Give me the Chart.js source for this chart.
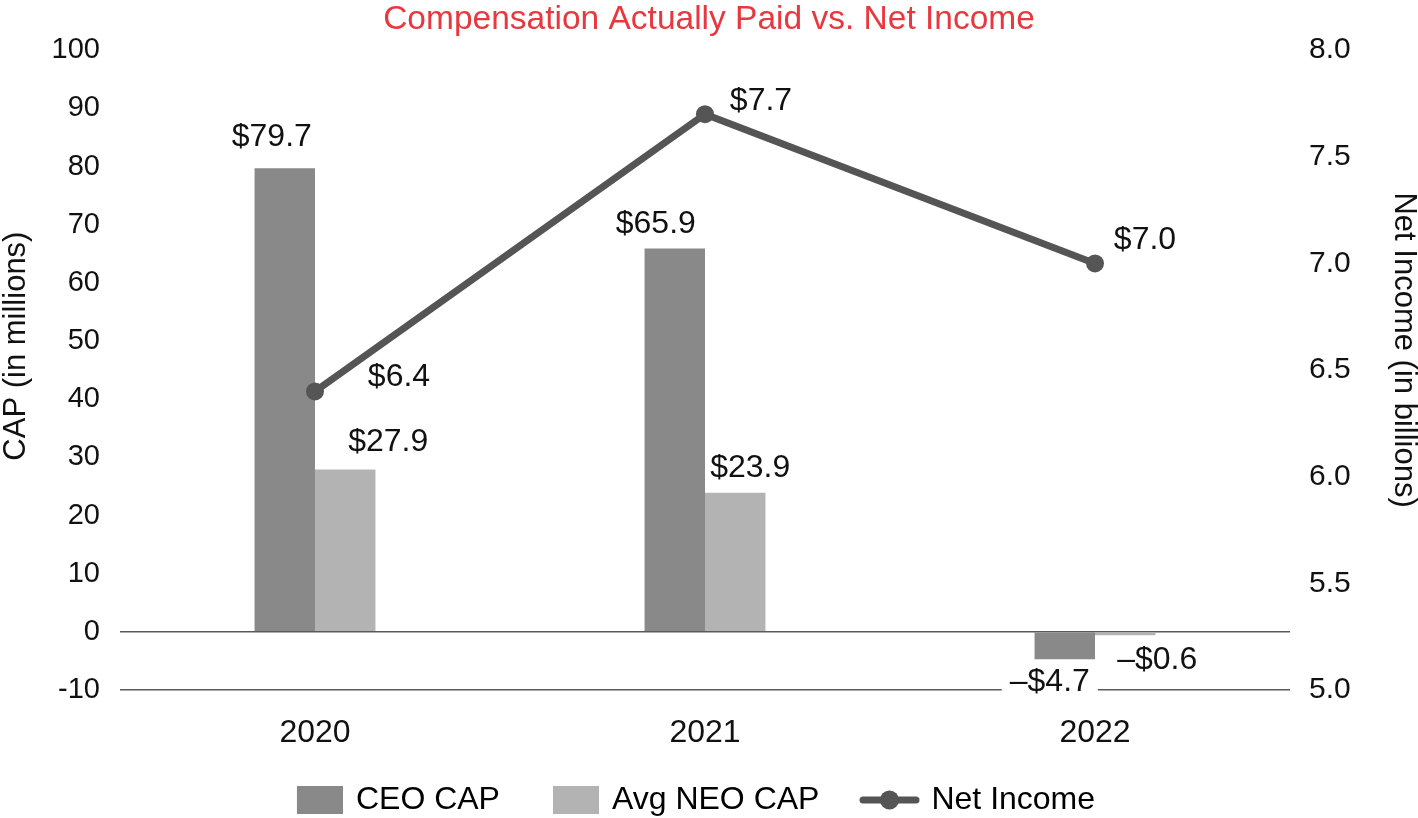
<!DOCTYPE html>
<html>
<head>
<meta charset="utf-8">
<script src="https://cdn.jsdelivr.net/npm/chart.js@4.4.1/dist/chart.umd.min.js"></script>
<style>
  html, body { margin: 0; padding: 0; background: #fff; }
  #wrap { width: 1418px; height: 818px; position: relative; }
</style>
</head>
<body>
<div id="wrap"><canvas id="c"></canvas></div>
<script>
const categories = ['2020', '2021', '2022'];
const ceoCap = [79.7, 65.9, -4.7];
const avgNeoCap = [27.9, 23.9, -0.6];
const netIncome = [6.4, 7.7, 7.0];
const seriesNames = ['CEO CAP', 'Avg NEO CAP', 'Net Income'];
const axisTitles = ['CAP (in millions)', 'Net Income (in billions)'];

const FONT = '"Liberation Sans", Arial, Helvetica, sans-serif';
const COL_CEO = '#898989';
const COL_NEO = '#b3b3b3';
const COL_LINE = '#555555';

// label offsets (pixels, relative to each element's anchor)
const LABEL_OFFSETS = [
  [[-13, -31], [-19, -24], [-15, 23]],
  [[43, -27], [15, -25], [32, 25]],
  [[84, -14], [56, -13], [50, -23]]
];

const SLOT = 65;
function makeRectIcon(color) {
  const c = document.createElement('canvas');
  c.width = 71; c.height = 28;
  const x = c.getContext('2d');
  x.fillStyle = color; x.fillRect(25, 0, 46, 28);
  return c;
}
function makeLineIcon(color) {
  const c = document.createElement('canvas');
  c.width = 80; c.height = 28;
  const x = c.getContext('2d');
  x.strokeStyle = color; x.lineWidth = 7; x.lineCap = 'round';
  x.beginPath(); x.moveTo(20, 14); x.lineTo(73, 14); x.stroke();
  x.fillStyle = color; x.beginPath(); x.arc(46.5, 14, 9.5, 0, Math.PI * 2); x.fill();
  return c;
}

const valueLabels = {
  id: 'valueLabels',
  afterDatasetsDraw(chart) {
    const ctx = chart.ctx;
    ctx.save();
    ctx.font = '32px ' + FONT;
    ctx.textAlign = 'center';
    ctx.textBaseline = 'middle';
    chart.data.datasets.forEach((ds, di) => {
      const meta = chart.getDatasetMeta(di);
      meta.data.forEach((el, i) => {
        const v = ds.data[i];
        const txt = (v < 0 ? '\u2013$' : '$') + Math.abs(v).toFixed(1);
        const off = LABEL_OFFSETS[di][i];
        const x = el.x + off[0], y = el.y + off[1];
        if (v < 0 && di === 0) {
          const w = ctx.measureText(txt).width;
          ctx.fillStyle = '#fff';
          ctx.fillRect(x - w / 2 - 8, y - 17, w + 16, 34);
        }
        ctx.fillStyle = '#111';
        ctx.fillText(txt, x, y);
      });
    });
    ctx.restore();
  }
};

const axisTitlePlugin = {
  id: 'axisTitlePlugin',
  afterLayout(chart) {
    if (chart.legend) { chart.legend.left -= 24; chart.legend.right -= 24; }
  },
  afterDraw(chart) {
    const ctx = chart.ctx;
    ctx.save();
    ctx.font = '31px ' + FONT;
    ctx.fillStyle = '#111';
    ctx.textAlign = 'center';
    ctx.textBaseline = 'middle';
    const ca = chart.chartArea;
    const mid = (ca.top + ca.bottom) / 2;
    ctx.save();
    ctx.translate(16, mid - 24);
    ctx.rotate(-Math.PI / 2);
    ctx.fillText(axisTitles[0], 0, 0);
    ctx.restore();
    ctx.save();
    ctx.translate(chart.width - 14, mid - 20);
    ctx.rotate(Math.PI / 2);
    ctx.fillText(axisTitles[1], 0, 0);
    ctx.restore();
    ctx.restore();
  }
};

const data = {
  labels: categories,
  datasets: [
    { type: 'bar', label: seriesNames[0], data: ceoCap, backgroundColor: COL_CEO, borderWidth: 0, yAxisID: 'y', order: 2 },
    { type: 'bar', label: seriesNames[1], data: avgNeoCap, backgroundColor: COL_NEO, borderWidth: 0, yAxisID: 'y', order: 2 },
    { type: 'line', label: seriesNames[2], data: netIncome, borderColor: COL_LINE, backgroundColor: COL_LINE,
      borderWidth: 7, pointRadius: 9, pointBackgroundColor: COL_LINE, pointBorderWidth: 0, yAxisID: 'y1', order: 0, tension: 0 }
  ]
};

new Chart(document.getElementById('c'), {
  data,
  plugins: [valueLabels, axisTitlePlugin],
  options: {
    responsive: true,
    maintainAspectRatio: false,
    animation: false,
    layout: { padding: 0 },
    datasets: { bar: { categoryPercentage: 0.31, barPercentage: 1.0 } },
    plugins: {
      tooltip: { enabled: false },
      title: {
        display: true,
        text: 'Compensation Actually Paid vs. Net Income',
        color: '#e8383f',
        font: { family: FONT, size: 33.5, weight: 'normal' },
        padding: { top: 0, bottom: 10 }
      },
      legend: {
        position: 'bottom',
        maxHeight: 65,
        labels: {
          font: { family: FONT, size: 32 },
          color: '#111',
          usePointStyle: true,
          pointStyleWidth: SLOT,
          boxHeight: 28,
          padding: 31,
          generateLabels: () => [
            { text: seriesNames[0], pointStyle: makeRectIcon(COL_CEO), fillStyle: COL_CEO, strokeStyle: COL_CEO, lineWidth: 0, datasetIndex: 0 },
            { text: seriesNames[1], pointStyle: makeRectIcon(COL_NEO), fillStyle: COL_NEO, strokeStyle: COL_NEO, lineWidth: 0, datasetIndex: 1 },
            { text: seriesNames[2], pointStyle: makeLineIcon(COL_LINE), fillStyle: COL_LINE, strokeStyle: COL_LINE, lineWidth: 0, datasetIndex: 2 }
          ]
        }
      }
    },
    scales: {
      x: {
        grid: { display: false, drawTicks: false },
        border: { display: false },
        ticks: { font: { family: FONT, size: 32 }, color: '#111', padding: 24 },
        afterFit(s) { s.height = 63; }
      },
      y: {
        position: 'left',
        min: -10, max: 100,
        ticks: { stepSize: 10, font: { family: FONT, size: 29 }, color: '#111', padding: 20 },
        grid: {
          drawTicks: false,
          color: (c) => (c.tick && (c.tick.value === 0 || c.tick.value === -10)) ? '#5a5a5a' : 'transparent',
          lineWidth: 1.5
        },
        border: { display: false },
        afterFit(s) { s.width = 120; }
      },
      y1: {
        position: 'right',
        min: 5, max: 8,
        ticks: { stepSize: 0.5, font: { family: FONT, size: 30 }, color: '#111', padding: 19,
          callback: (v) => Number(v).toFixed(1) },
        grid: { display: false, drawTicks: false },
        border: { display: false },
        afterFit(s) { s.width = 128; }
      }
    }
  }
});
</script>
</body>
</html>
